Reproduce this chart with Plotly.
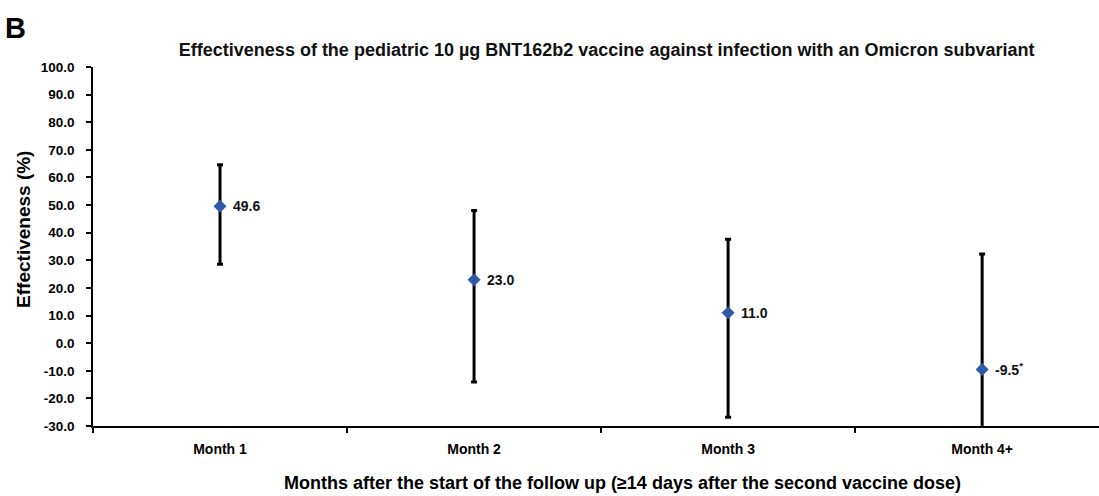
import plotly.graph_objects as go

categories = ["Month 1", "Month 2", "Month 3", "Month 4+"]
effectiveness = [49.6, 23.0, 11.0, -9.5]
ci_upper = [64.6, 48.0, 37.6, 32.3]
ci_lower = [28.6, -14.1, -26.8, -60.0]
value_labels = ["49.6", "23.0", "11.0", "-9.5<sup>*</sup>"]
y_ticks = [-30, -20, -10, 0, 10, 20, 30, 40, 50, 60, 70, 80, 90, 100]
y_tick_text = ["%.1f" % v for v in y_ticks]

err_plus = [u - v for u, v in zip(ci_upper, effectiveness)]
err_minus = [v - l for v, l in zip(effectiveness, ci_lower)]

FONT = "Liberation Sans, Arial, sans-serif"

fig = go.Figure()
fig.add_trace(go.Scatter(
    x=categories, y=effectiveness, mode="markers",
    marker=dict(symbol="diamond", size=10, color="#2E5AA8"),
    error_y=dict(type="data", symmetric=False, array=err_plus, arrayminus=err_minus,
                 color="black", thickness=3, width=3),
    showlegend=False,
))

for c, v, t in zip(categories, effectiveness, value_labels):
    fig.add_annotation(x=c, y=v, text="<b>" + t + "</b>", xref="x", yref="y",
                       showarrow=False, xanchor="left", yanchor="middle", xshift=11,
                       font=dict(family=FONT, size=14, color="#111"))

# panel letter
fig.add_annotation(x=-0.089, y=1.159, xref="paper", yref="paper", xanchor="left", yanchor="top",
                   text="<b>B</b>", showarrow=False,
                   font=dict(family=FONT, size=29, color="black"))

# axis titles as annotations (positioned like the reference)
fig.add_annotation(x=0.526, y=-0.159, xref="paper", yref="paper", xanchor="center", yanchor="middle",
                   text="<b>Months after the start of the follow up (≥14 days after the second vaccine dose)</b>",
                   showarrow=False, font=dict(family=FONT, size=18, color="black"))
fig.add_annotation(x=-0.0686, y=0.549, xref="paper", yref="paper", xanchor="center", yanchor="middle",
                   text="<b>Effectiveness (%)</b>", textangle=-90,
                   showarrow=False, font=dict(family=FONT, size=19, color="black"))

fig.update_layout(
    width=1099, height=496,
    margin=dict(l=93, r=0, t=67, b=70, autoexpand=False),
    paper_bgcolor="white", plot_bgcolor="white",
    font=dict(family=FONT, color="black"),
    title=dict(text="<b>Effectiveness of the pediatric 10 µg BNT162b2 vaccine against infection with an Omicron subvariant</b>",
               x=0.552, xanchor="center", y=0.899, yanchor="middle",
               font=dict(family=FONT, size=18, color="#111")),
    xaxis=dict(
        type="category", range=[-0.5, 3.46],
        tickson="boundaries", ticks="outside", ticklen=5, tickwidth=1.5, tickcolor="black",
        ticklabelstandoff=9,
        showline=True, linecolor="black", linewidth=1.5, showgrid=False, zeroline=False,
        tickfont=dict(family=FONT, size=14, color="black", weight="bold"),
    ),
    yaxis=dict(
        range=[-30, 100], tickvals=y_ticks, ticktext=y_tick_text,
        ticks="outside", ticklen=5, tickwidth=1.5, tickcolor="black",
        ticklabelstandoff=9,
        showline=True, linecolor="black", linewidth=1.5, showgrid=False, zeroline=False,
        tickfont=dict(family=FONT, size=13.5, color="black", weight="bold"),
    ),
)

fig.write_html("out.html", post_script="document.body.style.margin='0';",
               config={"displayModeBar": False})
